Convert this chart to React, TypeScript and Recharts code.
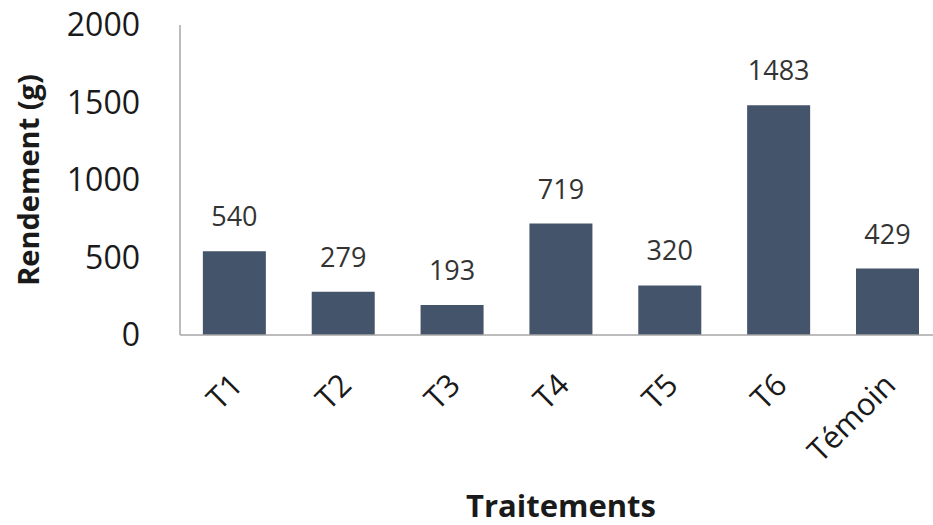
import React from 'react'
import { BarChart, Bar, XAxis, YAxis, LabelList } from 'recharts'

const categories = ['T1', 'T2', 'T3', 'T4', 'T5', 'T6', 'Témoin']
const rendement = [540, 279, 193, 719, 320, 1483, 429]
const yTicks = [0, 500, 1000, 1500, 2000]

const data = categories.map((name, i) => ({ name, rendement: rendement[i] }))

const FONT = '"Open Sans", sans-serif'
const BAR_COLOR = '#44546a'
const AXIS_COLOR = '#a6a6a6'
const TEXT_COLOR = '#1a1a1a'

// rotated category labels, end of text sits just right of the tick
function SlantTick({ x, y, payload }: any) {
  return (
    <g transform={`translate(${x + 10},${y + 52})`}>
      <text
        x={0}
        y={0}
        textAnchor="end"
        transform="rotate(-45)"
        fontFamily={FONT}
        fontSize={31}
        fill={TEXT_COLOR}
      >
        {payload.value}
      </text>
    </g>
  )
}

function YTitle({ viewBox }: any) {
  const cx = viewBox.x + 27
  const cy = viewBox.y + viewBox.height / 2
  return (
    <text
      x={cx}
      y={cy}
      transform={`rotate(-90, ${cx}, ${cy})`}
      textAnchor="middle"
      dominantBaseline="central"
      fontFamily={FONT}
      fontWeight="bold"
      fontSize={29}
      fill={TEXT_COLOR}
    >
      Rendement (g)
    </text>
  )
}

export default function App() {
  return (
    <div style={{ position: 'absolute', left: 0, top: 0, width: 933, height: 525, overflow: 'hidden', background: '#fff' }}>
      <BarChart
        width={950}
        height={525}
        data={data}
        margin={{ top: 25, right: 8, left: 0, bottom: 0 }}
        barCategoryGap="21%"
      >
        <XAxis
          dataKey="name"
          height={190}
          stroke={AXIS_COLOR}
          strokeWidth={1.5}
          tickLine={false}
          tickSize={0}
          tickMargin={0}
          tick={<SlantTick />}
          interval={0}
          label={{
            value: 'Traitements',
            position: 'insideBottom',
            offset: 8,
            fontFamily: FONT,
            fontWeight: 'bold',
            fontSize: 31,
            fill: TEXT_COLOR,
          }}
        />
        <YAxis
          width={180}
          domain={[0, 2000]}
          ticks={yTicks}
          stroke={AXIS_COLOR}
          strokeWidth={1.5}
          tickLine={false}
          tickSize={0}
          tickMargin={40}
          tick={{ fontFamily: FONT, fontSize: 32, fill: TEXT_COLOR }}
          label={<YTitle />}
        />
        <Bar dataKey="rendement" fill={BAR_COLOR} isAnimationActive={false}>
          <LabelList
            dataKey="rendement"
            position="top"
            offset={25}
            fontFamily={FONT}
            fontSize={27}
            fill="#333333"
          />
        </Bar>
      </BarChart>
    </div>
  )
}
